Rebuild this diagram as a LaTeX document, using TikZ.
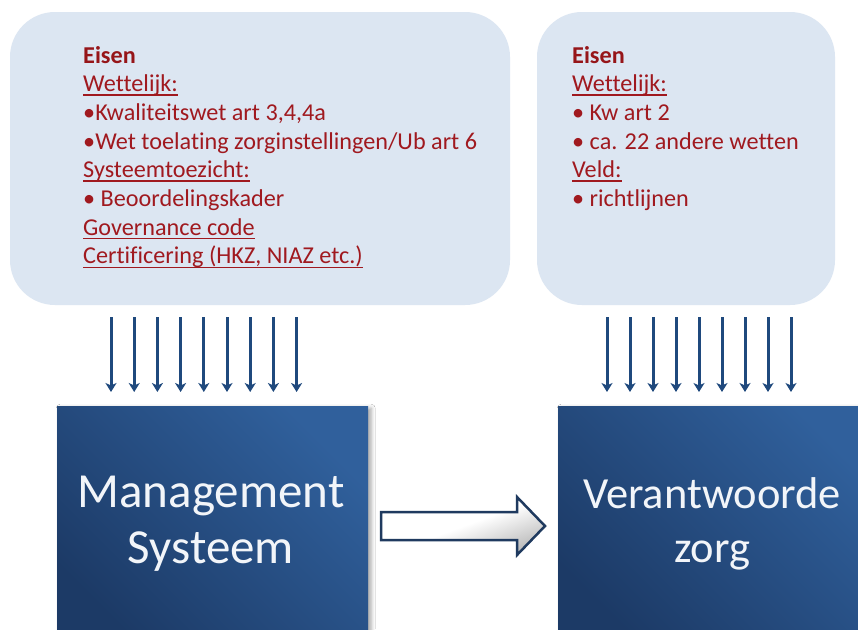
\documentclass[tikz,border=0pt]{standalone}
\usepackage{fontspec}
\setmainfont{Carlito}[Ligatures=NoCommon]
\newcommand{\myul}[1]{\leavevmode\setbox0\hbox{#1}\rlap{\vrule height -2.6pt depth 3.9pt width \wd0}\box0}
\usetikzlibrary{arrows.meta,shadows.blur}
\definecolor{boxfill}{HTML}{DCE6F2}
\definecolor{txtred}{HTML}{A0191F}
\definecolor{headred}{HTML}{961519}
\definecolor{navy}{HTML}{1F497D}
\definecolor{blockdark}{HTML}{1C3A66}
\definecolor{blocklight}{HTML}{30609C}
\definecolor{arrline}{HTML}{1F3A5F}
\definecolor{lighttext}{HTML}{F2F5F9}
\begin{document}
\begin{tikzpicture}[x=1pt,y=-1pt,
  reqbox/.style={fill=boxfill, rounded corners=45pt, inner sep=0pt, draw=none},
  reqline/.style={anchor=base west, inner sep=0pt, text=txtred, font=\fontsize{24.2}{28}\selectfont},
  mainblock/.style={top color=blocklight, bottom color=blockdark, shading angle=-45,
     inner sep=0pt, anchor=north west,
     blur shadow={shadow xshift=3pt, shadow yshift=-2pt, shadow blur radius=4pt, shadow opacity=35}},
  bigtext/.style={anchor=base, inner sep=0pt, text=lighttext},
  thinarrow/.style={draw=navy, line width=3pt, -{Stealth[length=9pt,width=11pt,inset=2.5pt]}},
  blockarrow/.style={draw=arrline, line width=2.5pt, line join=miter, top color=white, bottom color=gray!55,
     middle color=white, shading angle=20}
]
\useasboundingbox (0,0) rectangle (858,629);
\clip (0,0) rectangle (858,629);
\fill[white] (0,0) rectangle (858,629);

% requirement boxes
\node[reqbox, minimum width=500pt, minimum height=293pt] (lreq) at (260,158.5) {};
\node[reqbox, minimum width=298pt, minimum height=293pt] (rreq) at (686,158.5) {};

% left texts
\foreach \t [count=\i] in {
  {\textcolor{headred}{\bfseries Eisen}},
  {\myul{Wettelijk:}},
  {•Kwaliteitswet art 3,4,4a},
  {•Wet toelating zorginstellingen/Ub art 6},
  {\myul{Systeemtoezicht:}},
  {• Beoordelingskader},
  {\myul{Governance code}},
  {\myul{Certificering (HKZ, NIAZ etc.)}}}
  \node[reqline] (lt\i) at (83, 63+28.7*\i-28.7) {\t};

% right texts
\foreach \t [count=\i] in {
  {\textcolor{headred}{\bfseries Eisen}},
  {\myul{Wettelijk:}},
  {• Kw art 2},
  {• ca. 22 andere wetten},
  {\myul{Veld:}},
  {• richtlijnen}}
  \node[reqline] (rt\i) at (572, 63+28.7*\i-28.7) {\t};

% main blocks
\node[mainblock, minimum width=311pt, minimum height=240pt] (mgmt) at (57,406) {};
\node[mainblock, minimum width=320pt, minimum height=240pt] (zorg) at (558,406) {};
\node[bigtext, font=\fontsize{49}{56}\selectfont] (mg1) at (211,507) {Management};
\node[bigtext, font=\fontsize{49}{56}\selectfont] (mg2) at (211,563) {Systeem};
\node[bigtext, font=\fontsize{44.5}{56}\selectfont] (vz1) at (712,508) {Verantwoorde};
\node[bigtext, font=\fontsize{44.5}{56}\selectfont] (vz2) at (712,562) {zorg};

% thin arrows
\foreach \i in {0,...,8} {
  \coordinate (ls\i) at (111+23.2*\i,317);
  \coordinate (le\i) at (111+23.2*\i,392);
  \draw[thinarrow] (ls\i) -- (le\i);
  \coordinate (rs\i) at (607+23*\i,317);
  \coordinate (re\i) at (607+23*\i,392);
  \draw[thinarrow] (rs\i) -- (re\i);
}

% block arrow
\draw[blockarrow] (381,512) -- (517,512) -- (517,497) -- (545,526) -- (517,555) -- (517,540) -- (381,540) -- cycle;
\end{tikzpicture}
\end{document}
